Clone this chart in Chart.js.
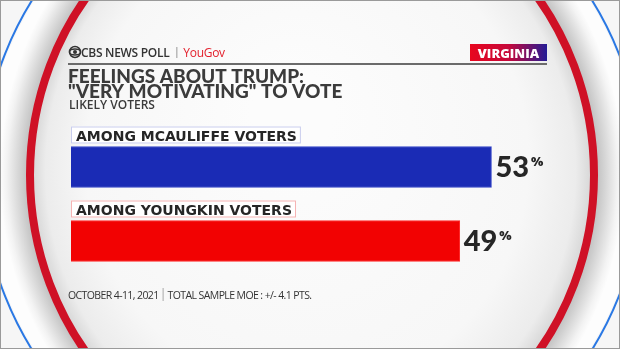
<!DOCTYPE html>
<html>
<head>
<meta charset="utf-8">
<script src="https://cdn.jsdelivr.net/npm/chart.js@4.4.0/dist/chart.umd.min.js"></script>
<style>
  html, body { margin: 0; padding: 0; background: #fff; }
  #wrap { width: 620px; height: 349px; position: relative; }
</style>
</head>
<body>
<div id="wrap"><canvas id="pollChart" width="620" height="349"></canvas></div>
<script>
// data read from the graphic
const groups = ['AMONG MCAULIFFE VOTERS', 'AMONG YOUNGKIN VOTERS'];
const veryMotivated = [53, 49];
const barColors = ['#1a2bb5', '#f20202'];
const boxBorders = ['#c9cdee', '#f6b3b3'];

const titleLines = ['FEELINGS ABOUT TRUMP:', '"VERY MOTIVATING" TO VOTE'];
const subtitle = 'LIKELY VOTERS';
const stateTag = 'VIRGINIA';
const footDate = 'OCTOBER 4-11, 2021';
const footMoe = 'TOTAL SAMPLE MOE : +/- 4.1 PTS.';

// the round studio frame behind the graphic
const backdrop = {
    id: 'backdrop',
    beforeDraw(chart) {
        const ctx = chart.ctx;
        const W = chart.width, H = chart.height;
        const cx = 312, cy = 175;
        ctx.save();
        ctx.fillStyle = '#f6f6f6';
        ctx.fillRect(0, 0, W, H);

        // outer blue line
        ctx.beginPath();
        ctx.arc(cx, cy, 330, 0, Math.PI * 2);
        ctx.lineWidth = 2;
        ctx.strokeStyle = '#2a78e4';
        ctx.stroke();
        ctx.beginPath();
        ctx.arc(cx, cy, 328, 0, Math.PI * 2);
        ctx.fillStyle = '#fdfdfd';
        ctx.fill();

        ctx.save();
        ctx.translate(cx, cy);
        ctx.scale(1, 1.05);
        // grey band outside the red ring
        let g = ctx.createRadialGradient(0, 0, 286, 0, 0, 312);
        g.addColorStop(0, '#c4c4c4');
        g.addColorStop(0.35, '#dadada');
        g.addColorStop(0.75, '#f3f3f3');
        g.addColorStop(1, '#fdfdfd');
        ctx.beginPath();
        ctx.arc(0, 0, 312, 0, Math.PI * 2);
        ctx.fillStyle = g;
        ctx.fill();
        // inner face
        g = ctx.createRadialGradient(-20, -60, 40, 0, 0, 282);
        g.addColorStop(0, '#fcfcfc');
        g.addColorStop(0.75, '#f7f7f7');
        g.addColorStop(0.93, '#ececec');
        g.addColorStop(1, '#d4d4d4');
        ctx.beginPath();
        ctx.arc(0, 0, 281, 0, Math.PI * 2);
        ctx.fillStyle = g;
        ctx.fill();
        // red ring
        ctx.beginPath();
        ctx.arc(0, 0, 282, 0, Math.PI * 2);
        ctx.lineWidth = 8;
        ctx.strokeStyle = '#cf1126';
        ctx.stroke();
        ctx.restore();

        ctx.strokeStyle = '#9a9a9a';
        ctx.lineWidth = 2;
        ctx.strokeRect(0, 0, W, H);
        ctx.restore();
    }
};

const overlay = {
    id: 'overlay',
    afterDatasetsDraw(chart) {
        const ctx = chart.ctx;
        const meta = chart.getDatasetMeta(0);
        ctx.save();
        ctx.textBaseline = 'alphabetic';

        // logo row
        ctx.fillStyle = '#333';
        ctx.lineWidth = 1.5;
        ctx.strokeStyle = '#333';
        ctx.beginPath();
        ctx.arc(75, 52, 5.5, 0, Math.PI * 2);
        ctx.stroke();
        ctx.beginPath();
        ctx.ellipse(75, 52, 5.5, 3, 0, 0, Math.PI * 2);
        ctx.stroke();
        ctx.beginPath();
        ctx.arc(75, 52, 2, 0, Math.PI * 2);
        ctx.fill();
        ctx.font = '600 12px "Open Sans"';
        ctx.letterSpacing = '-0.3px';
        ctx.fillText('CBS NEWS POLL', 81, 57);
        let w = ctx.measureText('CBS NEWS POLL').width;
        ctx.fillStyle = '#999';
        ctx.fillRect(81 + w + 7, 47, 1, 11);
        ctx.fillStyle = '#e3202c';
        ctx.font = '500 12px "Open Sans"';
        ctx.fillText('YouGov', 81 + w + 14, 57);
        ctx.letterSpacing = '0px';

        // rule under logo
        ctx.fillStyle = '#6b6b6b';
        ctx.fillRect(68, 63, 479, 2);

        // state tag
        const tg = ctx.createLinearGradient(470, 0, 547, 0);
        tg.addColorStop(0, '#e8061e');
        tg.addColorStop(0.5, '#c6083a');
        tg.addColorStop(1, '#241c95');
        ctx.fillStyle = tg;
        ctx.fillRect(470, 44, 77, 17);
        ctx.fillStyle = '#fff';
        ctx.font = '800 13px "Open Sans"';
        ctx.textAlign = 'center';
        ctx.fillText(stateTag, 508.5, 58);
        ctx.textAlign = 'left';

        // title
        ctx.fillStyle = '#3b3b3b';
        ctx.font = '900 19px Lato';
        ctx.fillText(titleLines[0], 68, 83);
        ctx.fillText(titleLines[1], 68, 98);
        ctx.font = '600 12px "Open Sans"';
        ctx.fillText(subtitle, 69, 109);

        // group labels and values
        meta.data.forEach((bar, i) => {
            const top = bar.y - bar.height / 2;
            const left = chart.chartArea.left;
            ctx.font = 'bold 14px "DejaVu Sans"';
            const tw = ctx.measureText(groups[i]).width;
            ctx.fillStyle = '#ffffff';
            ctx.fillRect(left, top - 20, tw + 9, 17);
            ctx.strokeStyle = boxBorders[i];
            ctx.lineWidth = 1;
            ctx.strokeRect(left + 0.5, top - 19.5, tw + 8, 16);
            ctx.fillStyle = '#262626';
            ctx.fillText(groups[i], left + 5, top - 6);

            ctx.fillStyle = '#262626';
            ctx.font = '900 29px Lato';
            const num = String(veryMotivated[i]);
            ctx.fillText(num, bar.x + 4, bar.y + 10);
            const nw = ctx.measureText(num).width;
            ctx.font = '800 13px "Open Sans"';
            ctx.fillText('%', bar.x + 6 + nw, bar.y - 1);
        });

        // footnote
        ctx.fillStyle = '#333';
        ctx.font = '400 10.5px "Open Sans"';
        ctx.letterSpacing = '-0.6px';
        ctx.fillText(footDate, 68, 299);
        w = ctx.measureText(footDate).width;
        ctx.fillStyle = '#aaa';
        ctx.fillRect(68 + w + 4, 288, 1, 13);
        ctx.fillStyle = '#333';
        ctx.fillText(footMoe, 68 + w + 9, 299);
        ctx.restore();
    }
};

new Chart(document.getElementById('pollChart'), {
    type: 'bar',
    data: {
        labels: groups,
        datasets: [{
            data: veryMotivated,
            backgroundColor: barColors,
            borderColor: ['#3445c8', '#ff2a2a'],
            borderWidth: 1,
            barThickness: 41
        }]
    },
    options: {
        indexAxis: 'y',
        responsive: false,
        animation: false,
        layout: { padding: { left: 71, right: 73, top: 130, bottom: 71 } },
        scales: {
            x: { display: false, min: 0, max: 60 },
            y: { display: false }
        },
        plugins: {
            legend: { display: false },
            tooltip: { enabled: false }
        }
    },
    plugins: [backdrop, overlay]
});
</script>
</body>
</html>
